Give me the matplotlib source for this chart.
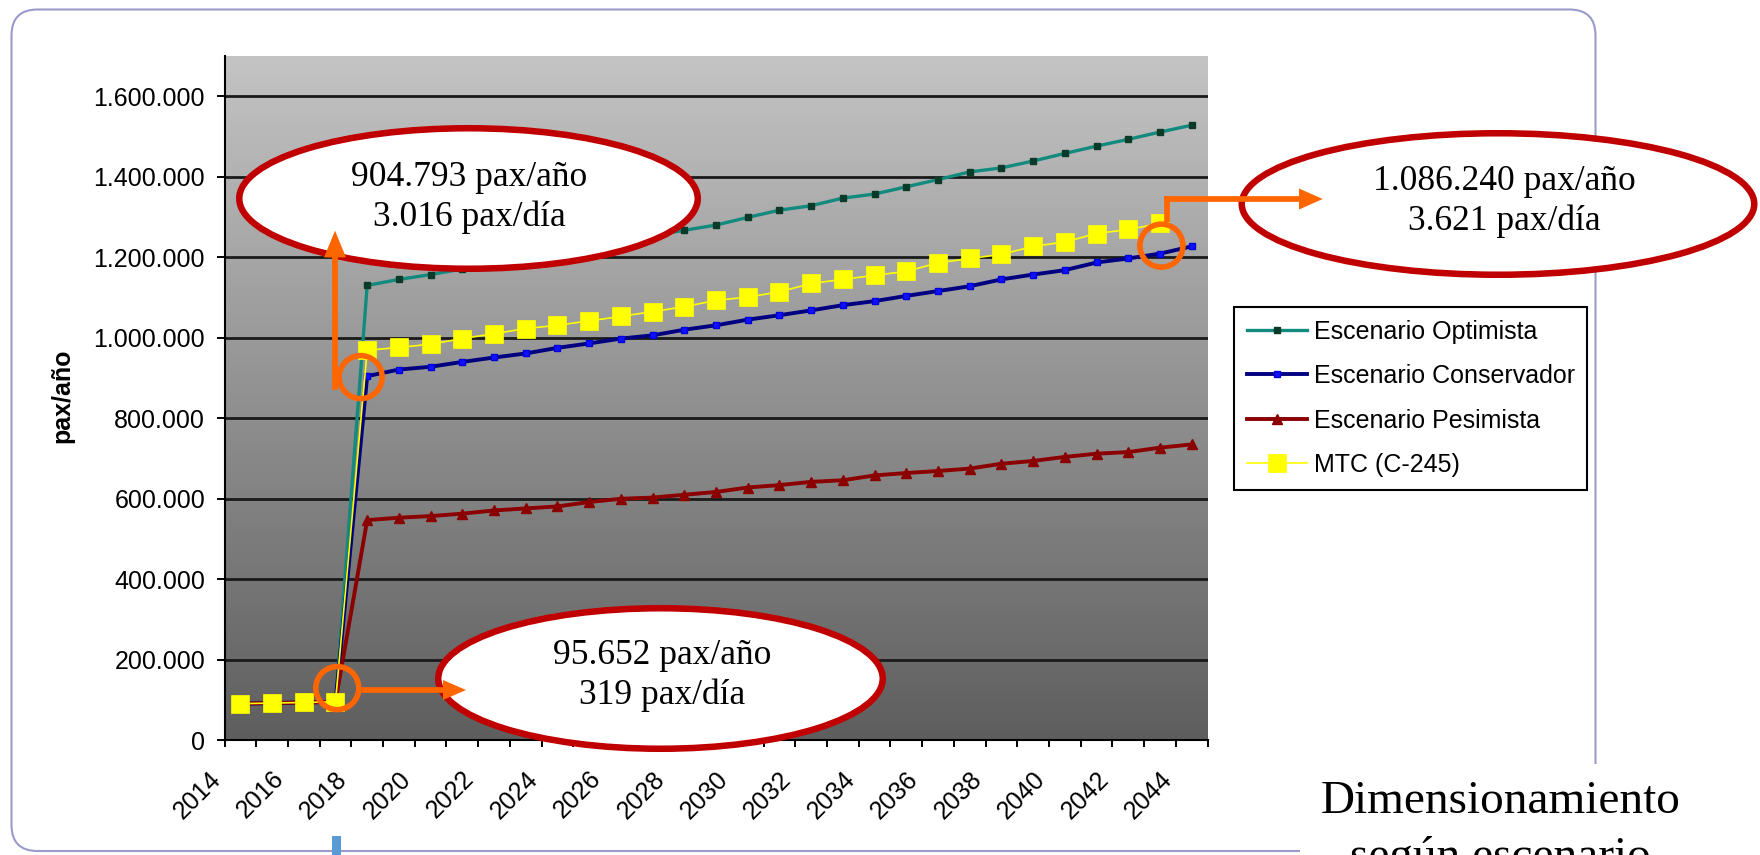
import numpy as np
import matplotlib.pyplot as plt
from matplotlib.colors import LinearSegmentedColormap
from matplotlib.patches import Ellipse, Circle, FancyArrow, FancyBboxPatch, Rectangle
from matplotlib.transforms import ScaledTranslation

plt.rcParams['font.family'] = ['Liberation Sans', 'DejaVu Sans']

# datos (pax/año)
years = np.arange(2014, 2045)
optimista = [91000, 92500, 94000, 95652,
             1130000, 1145000, 1157000, 1171000, 1184000, 1198000, 1212000, 1226000, 1240000,
             1254000, 1267000, 1280000, 1299000, 1317000, 1328000, 1347000, 1357000, 1375000,
             1393000, 1412000, 1422000, 1439000, 1458000, 1476000, 1493000, 1511000, 1528000]
conservador = [91000, 92500, 94000, 95652,
               904793, 921000, 928000, 940000, 951000, 961000, 975000, 986000, 998000,
               1006000, 1020000, 1031000, 1045000, 1056000, 1068000, 1081000, 1091000, 1104000,
               1116000, 1128000, 1145000, 1157000, 1168000, 1187000, 1197000, 1209000, 1227000]
pesimista = [91000, 92500, 94000, 95652,
             547000, 553000, 557000, 563000, 571000, 576000, 581000, 592000, 600000,
             603000, 610000, 617000, 628000, 634000, 642000, 646000, 658000, 664000,
             669000, 675000, 687000, 694000, 704000, 712000, 716000, 727000, 735000]
mtc = [91000, 92500, 94000, 95652,
       969000, 976000, 984000, 998000, 1010000, 1023000, 1031000, 1042000, 1053000,
       1065000, 1077000, 1093000, 1101000, 1114000, 1135000, 1145000, 1155000, 1165000,
       1186000, 1197000, 1207000, 1227000, 1238000, 1259000, 1269000, 1284000, np.nan]
yticks = np.arange(0, 1600001, 200000)

W, H = 1760, 855
fig = plt.figure(figsize=(W / 100, H / 100), dpi=100)
fig.patch.set_facecolor('white')

# area del grafico (pixeles)
x0, x1, y0, y1 = 224.5, 1207.5, 56, 740.3
ax = fig.add_axes([x0 / W, 1 - y1 / H, (x1 - x0) / W, (y1 - y0) / H])
ymax = 1.7e6
xs = np.arange(len(years))

grad = LinearSegmentedColormap.from_list('g', ['#c4c4c4', '#5e5e5e'])
ax.imshow(np.linspace(0, 1, 256).reshape(-1, 1), cmap=grad, aspect='auto',
          extent=[-0.5, len(years) - 0.5, 0, ymax], zorder=0)

ax.plot(xs, optimista, color='#128a7e', lw=2.4, marker='s', ms=4,
        mfc='#0a3a28', mec='#0a3a28', label='Escenario Optimista', zorder=3)
ax.plot(xs, conservador, color='#000080', lw=2.8, marker='s', ms=4.6,
        mfc='#1010ff', mec='#0000dd', label='Escenario Conservador', zorder=4)
ax.plot(xs, pesimista, color='#8b0000', lw=2.8, marker='^', ms=7,
        mfc='#8b0000', mec='#8b0000', label='Escenario Pesimista', zorder=5)
ax.plot(xs, mtc, color='#ffff00', lw=1.2, marker='s', ms=12.5, mew=0.5,
        mfc='#ffff00', mec='#ffff00', label='MTC (C-245)', zorder=6)

ax.set_xlim(-0.5, len(years) - 0.5)
ax.set_ylim(0, ymax)
ax.set_yticks(yticks, labels=[f'{v:,}'.replace(',', '.') for v in yticks])
ax.yaxis.grid(True, color='#1a1a1a', lw=2)
ax.set_axisbelow(True)
for s in ['top', 'right']:
    ax.spines[s].set_visible(False)
for s in ['left', 'bottom']:
    ax.spines[s].set_color('black')
    ax.spines[s].set_linewidth(1.5)

ax.set_xticks(np.arange(-0.5, len(years)), labels=[])
ax.set_xticks(xs[::2], labels=[str(y) for y in years[::2]], minor=True)
ax.tick_params(axis='x', which='major', direction='out', length=5.3, width=1.4)
ax.tick_params(axis='x', which='minor', length=0, pad=19, labelsize=18, labelrotation=45)
ax.tick_params(axis='y', direction='out', length=5.5, width=1.4, labelsize=18, pad=8.5)
for lab in ax.get_xticklabels(minor=True):
    lab.set_ha('right')
    lab.set_va('top')
    lab.set_transform(lab.get_transform() + ScaledTranslation(-0.15, 0, fig.dpi_scale_trans))

fig.text(62.5 / W, 1 - 395.5 / H, 'pax/año', rotation=90, fontsize=18,
         fontweight='bold', ha='center', va='center')

leg = ax.legend(loc='upper left', bbox_to_anchor=(1234 / W, 1 - 307 / H),
                bbox_transform=fig.transFigure, borderaxespad=0, fontsize=18,
                fancybox=False, edgecolor='black', framealpha=1, borderpad=0.5,
                labelspacing=0.82, handlelength=2.4, handletextpad=0.28)
leg.get_frame().set_linewidth(1.5)

# capa de anotaciones en pixeles
ov = fig.add_axes([0, 0, 1, 1])
ov.set_xlim(0, W)
ov.set_ylim(H, 0)
ov.axis('off')
ov.patch.set_visible(False)

ov.add_patch(FancyBboxPatch((11.5, 9.5), 1584, 841.5, boxstyle='round,pad=0,rounding_size=26',
                            fc='none', ec='#9a9acb', lw=1.5))
ov.add_patch(Rectangle((1300, 764), 460, 91, fc='white', ec='none'))
ov.add_patch(Rectangle((332, 836), 8.5, 25, fc='#5b9bd5', ec='none'))

serif = 'Liberation Serif'
ov.text(1500.7, 813.3, 'Dimensionamiento', family=serif, fontsize=34, ha='center', va='baseline')
ov.text(1500.7, 869, 'según escenario', family=serif, fontsize=34, ha='center', va='baseline')

red = '#c00000'
orange = '#ff6600'
boxes = [((468.5, 198.5), 465, 147, (469, 177.3), '904.793 pax/año', '3.016 pax/día'),
         ((1498, 204), 519, 148, (1504, 181.7), '1.086.240 pax/año', '3.621 pax/día'),
         ((660.5, 678.5), 451, 147, (662, 655.5), '95.652 pax/año', '319 pax/día')]
for c, w, h, (tx, ty), l1, l2 in boxes:
    ov.add_patch(Ellipse(c, w - 6.5, h - 6.5, fc='white', ec=red, lw=4.7, zorder=2))
    ov.text(tx, ty, l1, family=serif, fontsize=25.5, ha='center', va='center', zorder=3)
    ov.text(tx, ty + 40, l2, family=serif, fontsize=25.5, ha='center', va='center', zorder=3)


def to_px(i, v):
    px, py = ax.transData.transform((i, v))
    return px, H - py


c1 = to_px(4, conservador[4])
c1 = (c1[0] - 6.5, c1[1] + 1)
c2 = to_px(3, mtc[3])
c2 = (c2[0] + 1.8, c2[1] - 13.7)
c3 = to_px(29, conservador[29])
c3 = (c3[0] + 1.5, c3[1] - 8)
for c in [c1, c2, c3]:
    ov.add_patch(Circle(c, 21.5, fc='none', ec=orange, lw=4, zorder=4))

ov.add_patch(FancyArrow(335, c1[1] + 12.7, 0, 230.7 - (c1[1] + 12.7), width=5.7, head_width=22,
                        head_length=26.7, length_includes_head=True, color=orange, lw=0, zorder=4))
ov.add_patch(FancyArrow(c2[0] + 24, 690, 466 - (c2[0] + 24), 0, width=5.7, head_width=20,
                        head_length=23, length_includes_head=True, color=orange, lw=0, zorder=4))
ov.plot([1166.9, 1166.9], [c3[1] - 24, 196.2], color=orange, lw=4.1, solid_capstyle='butt', zorder=4)
ov.add_patch(FancyArrow(1164, 199, 1322.7 - 1164, 0, width=5.7, head_width=21,
                        head_length=23.7, length_includes_head=True, color=orange, lw=0, zorder=4))

fig.savefig('out.png', dpi=100)
